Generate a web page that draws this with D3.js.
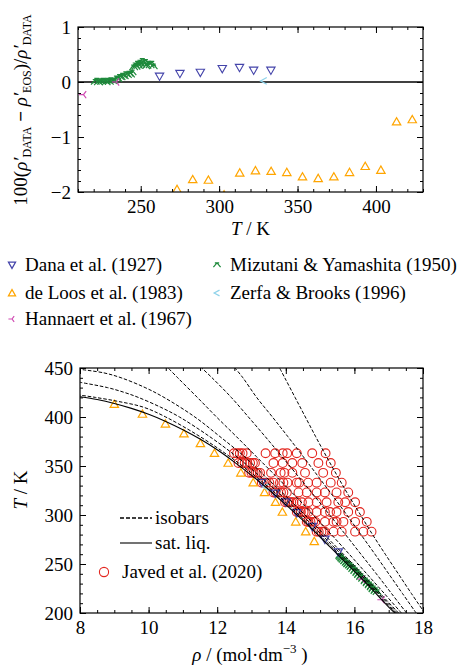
<!DOCTYPE html>
<html lang="en">
<head>
<meta charset="UTF-8">
<title>Saturated liquid density deviations</title>
<script src="https://cdn.jsdelivr.net/npm/d3@7"></script>
<style>
    body {margin:0; background:#fff}
    svg {display:block}
    svg text {font-family: "Liberation Serif", "Times New Roman", Times, "Nimbus Roman", "Nimbus Roman No9 L", "FreeSerif", "Noto Serif", "DejaVu Serif", serif;}
</style>
</head>
<body>
<svg id="chart" width="467" height="667"></svg>
<script>
// ---- data ----
// Dana et al. (1927)
var danaT   = [262, 275, 288, 302, 313, 322, 333];
var danaDev = [0.10, 0.15, 0.17, 0.24, 0.26, 0.21, 0.21];
var danaRho = [15.53, 15.14, 14.77, 14.32, 14.00, 13.69, 13.30];
// de Loos et al. (1983)
var loosT   = [273.15, 283.15, 293.15, 303.15, 313.15, 323.15, 333.15, 343.15, 353.15, 363.15, 373.15, 383.15, 393.15, 403.15, 413.15, 423.15];
var loosDev = [-1.95, -1.77, -1.78, -2.05, -1.65, -1.61, -1.62, -1.64, -1.72, -1.75, -1.72, -1.64, -1.53, -1.60, -0.72, -0.68];
var loosRho = [14.83, 14.58, 14.29, 13.90, 13.70, 13.38, 13.05, 12.69, 12.32, 11.92, 11.51, 11.03, 10.49, 9.82, 9.00, 7.70];
// Hannaert et al. (1967)
var hannT   = [213.5, 234.5];
var hannDev = [-0.23, 0.00];
var hannRho = [16.80, 16.22];
// Mizutani & Yamashita (1950)
var mizT   = [221, 222, 223, 224, 225, 226, 227, 228, 229, 230, 231, 232, 233,
              234.5, 235.5, 236.5, 237.5, 238.5, 239.5, 240.5, 241.5, 242.5, 243.5, 244.5, 245.5, 246.5,
              247, 248, 248.5, 249.5, 250, 251, 251.5, 252.5, 253, 254, 255, 256, 257, 258];
var mizDev = [0.00, 0.02, -0.01, 0.01, 0.00, 0.02, 0.01, -0.01, 0.02, 0.00, 0.03, 0.01, 0.02,
              0.06, 0.05, 0.09, 0.08, 0.11, 0.10, 0.14, 0.12, 0.15, 0.13, 0.17, 0.26, 0.30,
              0.27, 0.33, 0.29, 0.35, 0.31, 0.38, 0.34, 0.30, 0.36, 0.29, 0.33, 0.30, 0.33, 0.28];
var mizRho = [16.66, 16.60, 16.61, 16.54, 16.55, 16.49, 16.50, 16.43, 16.44, 16.37, 16.38, 16.31, 16.32,
              16.24, 16.25, 16.18, 16.19, 16.12, 16.13, 16.07, 16.08, 16.01, 16.02, 15.95, 15.97, 15.90,
              15.91, 15.85, 15.87, 15.80, 15.82, 15.76, 15.78, 15.71, 15.73, 15.67, 15.64, 15.62, 15.59, 15.57];
// Zerfa & Brooks (1996)
var zerfT   = [328.5];
var zerfDev = [0.02];
var zerfRho = [13.42];

// Javed et al. (2020): temperature rows and the densities measured on each
var javedRows = [363, 353, 343, 333, 323, 313, 303, 293, 283];
var javedRho = [
    [12.49, 12.58, 12.66, 12.74, 12.86, 13.41, 13.69, 13.91, 14.04, 14.32, 14.77, 15.16],
    [12.62, 12.72, 12.80, 12.88, 12.96, 13.04, 13.10, 13.64, 13.91, 14.19, 14.48, 14.95, 15.31],
    [12.93, 13.00, 13.06, 13.12, 13.18, 13.25, 13.57, 13.85, 13.96, 14.19, 14.56, 15.09, 15.46],
    [13.30, 13.36, 13.44, 13.52, 13.64, 13.83, 13.93, 14.05, 14.32, 14.39, 14.65, 14.90, 15.31, 15.63],
    [13.64, 13.70, 13.78, 13.86, 13.93, 14.03, 14.37, 14.61, 14.90, 15.14, 15.48, 15.82],
    [13.98, 14.04, 14.10, 14.16, 14.22, 14.32, 14.47, 14.66, 14.90, 15.19, 15.53, 15.73, 16.02],
    [14.32, 14.38, 14.44, 14.52, 14.58, 14.66, 14.90, 15.14, 15.29, 15.48, 15.82, 16.16],
    [14.61, 14.66, 14.72, 14.80, 14.86, 15.14, 15.39, 15.48, 15.68, 16.02, 16.36],
    [14.90, 14.96, 15.04, 15.10, 15.14, 15.39, 15.63, 16.02, 16.26, 16.50]
];

// saturated liquid line [rho, T]
var satLiq = [[8.0, 420.7], [8.5, 417.8], [9.0, 413.8], [9.5, 408.8], [10.0, 402.8], [10.5, 395.5],
              [11.0, 387.0], [11.5, 377.5], [12.0, 366.5], [12.5, 354.0], [13.0, 340.5], [13.5, 326.0],
              [14.0, 310.5], [14.5, 294.5], [15.0, 277.5], [15.5, 260.0], [16.0, 242.5], [16.5, 224.5],
              [17.0, 206.0], [17.18, 200.0]];
// isobars [T, rho]
var isobar1 = [[200, 17.21], [220, 16.66], [240, 16.11], [260, 15.55], [280, 14.97], [300, 14.39], [320, 13.77],
               [340, 13.10], [360, 12.35], [380, 11.50], [400, 10.50], [410, 9.85], [416, 9.10], [420, 8.45], [422.3, 8.0]];
var isobar2 = [[200, 17.25], [220, 16.70], [240, 16.16], [260, 15.61], [280, 15.04], [300, 14.47], [320, 13.87],
               [340, 13.23], [360, 12.55], [380, 11.78], [400, 10.90], [410, 10.35], [420, 9.70], [425, 9.30], [430, 8.80], [435.4, 8.0]];
var isobar3 = [[200, 17.29], [220, 16.75], [240, 16.22], [260, 15.68], [280, 15.12], [300, 14.56], [320, 13.98],
               [340, 13.38], [360, 12.78], [380, 12.08], [400, 11.35], [420, 10.45], [430, 9.90], [440, 9.20], [445, 8.70], [448.6, 8.0]];
var isobar4 = [[200, 17.37], [220, 16.87], [240, 16.36], [260, 15.85], [280, 15.33], [300, 14.80], [320, 14.26],
               [340, 13.70], [360, 13.13], [380, 12.56], [400, 11.98], [420, 11.42], [440, 10.85], [450, 10.57]];
var isobar5 = [[200, 17.52], [220, 17.08], [240, 16.64], [260, 16.19], [280, 15.74], [300, 15.28], [320, 14.82],
               [340, 14.35], [360, 13.88], [380, 13.40], [400, 12.91], [420, 12.41], [440, 11.85], [450, 11.55]];
var isobar6 = [[200, 17.80], [220, 17.40], [240, 17.00], [260, 16.60], [280, 16.19], [300, 15.78], [320, 15.36],
               [340, 14.93], [360, 14.50], [380, 14.06], [400, 13.61], [420, 13.15], [440, 12.75], [450, 12.52]];
var isobar7 = [[200, 18.05], [220, 17.66], [240, 17.28], [260, 16.90], [280, 16.53], [300, 16.18], [320, 15.83],
               [340, 15.50], [360, 15.18], [380, 14.87], [400, 14.57], [420, 14.27], [440, 13.97], [450, 13.82]];
var isobars = [isobar1, isobar2, isobar3, isobar4, isobar5, isobar6, isobar7];

// ---- colours ----
var cDana = "#4444aa", cLoos = "#ffa500", cMiz = "#1f8a3c", cZerf = "#8fd3ea", cHann = "#d04ab2", cJaved = "#e3261f";

// ---- marker shapes ----
function triDown(s){ return "M"+(-s)+","+(-s*0.8)+"L"+s+","+(-s*0.8)+"L0,"+(s*0.95)+"Z"; }
function triUp(s){ return "M"+(-s)+","+(s*0.8)+"L"+s+","+(s*0.8)+"L0,"+(-s*0.95)+"Z"; }
function mizMark(s){ return "M"+(-s*0.6)+","+(-s*0.6)+"L"+(s*0.6)+","+(-s*0.6)+"M0,"+(-s*0.6)+"L"+(-s)+","+(s*0.6)+"M0,"+(-s*0.6)+"L"+s+","+(s*0.6); }
function hannMark(s){ return "M0,0L"+(-s)+",0M0,0L"+(s*0.6)+","+(-s*0.8)+"M0,0L"+(s*0.6)+","+(s*0.8); }
function zerfMark(s){ return "M"+(s*0.7)+","+(-s*0.8)+"L"+(-s*0.8)+",0L"+(s*0.7)+","+(s*0.8); }

var svg = d3.select("#chart");

function frame(g, x, y, w, h, xMaj, xMin, yMaj, yMin){
    var fmt = d3.format("d");
    var axes = [
        g.append("g").attr("transform", "translate(0,"+h+")").call(d3.axisBottom(x).tickValues(xMin).tickSize(-3).tickFormat("")),
        g.append("g").call(d3.axisTop(x).tickValues(xMin).tickSize(-3).tickFormat("")),
        g.append("g").call(d3.axisLeft(y).tickValues(yMin).tickSize(-3).tickFormat("")),
        g.append("g").attr("transform", "translate("+w+",0)").call(d3.axisRight(y).tickValues(yMin).tickSize(-3).tickFormat("")),
        g.append("g").attr("transform", "translate(0,"+h+")").call(d3.axisBottom(x).tickValues(xMaj).tickSize(-6).tickPadding(8).tickFormat(fmt)),
        g.append("g").call(d3.axisTop(x).tickValues(xMaj).tickSize(-6).tickFormat("")),
        g.append("g").call(d3.axisLeft(y).tickValues(yMaj).tickSize(-6).tickPadding(7).tickFormat(fmt)),
        g.append("g").attr("transform", "translate("+w+",0)").call(d3.axisRight(y).tickValues(yMaj).tickSize(-6).tickFormat(""))
    ];
    axes.forEach(function(a){
        a.attr("font-size", 19);
        a.select(".domain").remove();
        a.selectAll(".tick line").attr("stroke", "#000").attr("stroke-width", 1);
        a.selectAll(".tick text").attr("fill", "#000");
    });
    g.append("rect").attr("width", w).attr("height", h)
        .attr("fill", "none").attr("stroke", "#000").attr("stroke-width", 1.2);
}

// ================= top panel: deviations =================
var tw = 345, th = 165;
var topG = svg.append("g").attr("transform", "translate(78,27)");
var xT = d3.scaleLinear().domain([210, 430]).range([0, tw]);
var yD = d3.scaleLinear().domain([-2, 1]).range([th, 0]);

svg.append("clipPath").attr("id", "clipTop").append("rect").attr("width", tw).attr("height", th);
var topData = topG.append("g").attr("clip-path", "url(#clipTop)");

topData.append("line").attr("x1", 0).attr("x2", tw).attr("y1", yD(0)).attr("y2", yD(0))
    .attr("stroke", "#000").attr("stroke-width", 1.3);

function devMarks(Ts, devs, shape, col, s, sw){
    topData.selectAll(null).data(d3.range(Ts.length)).enter().append("path")
        .attr("transform", function(i){ return "translate("+xT(Ts[i])+","+yD(devs[i])+")"; })
        .attr("d", shape(s)).attr("fill", "none").attr("stroke", col).attr("stroke-width", sw);
}
devMarks(mizT, mizDev, mizMark, cMiz, 4.2, 1.2);
devMarks(hannT, hannDev, hannMark, cHann, 4.5, 1.2);
devMarks(danaT, danaDev, triDown, cDana, 4.2, 1.1);
devMarks(loosT, loosDev, triUp, cLoos, 4.2, 1.2);
devMarks(zerfT, zerfDev, zerfMark, cZerf, 4.2, 1.2);

frame(topG, xT, yD, tw, th, [250, 300, 350, 400], d3.range(210, 431, 10), [-2, -1, 0, 1], d3.range(-2, 1.01, 0.2));

topG.append("text").attr("x", tw/2).attr("y", th+43).attr("text-anchor", "middle")
    .attr("font-size", 19)
    .html("<tspan font-style='italic'>T</tspan> / K");

var yl = svg.append("text").attr("transform", "translate(27,110) rotate(-90)")
    .attr("text-anchor", "middle").attr("font-size", 19);
yl.append("tspan").text("100(");
yl.append("tspan").attr("font-style", "italic").text("\u03c1\u2032");
yl.append("tspan").attr("font-size", 12).attr("dy", 4).text("DATA");
yl.append("tspan").attr("dy", -4).attr("font-weight", "bold").text(" \u2212 ");
yl.append("tspan").attr("font-style", "italic").text("\u03c1\u2032");
yl.append("tspan").attr("font-size", 12).attr("dy", 4).text("EOS");
yl.append("tspan").attr("dy", -4).text(")/");
yl.append("tspan").attr("font-style", "italic").text("\u03c1\u2032");
yl.append("tspan").attr("font-size", 12).attr("dy", 4).text("DATA");

// legend for top panel
var legItems = [
    {label: "Dana et al. (1927)", shape: triDown, col: cDana, x: 12, y: 265},
    {label: "de Loos et al. (1983)", shape: triUp, col: cLoos, x: 12, y: 293},
    {label: "Hannaert et al. (1967)", shape: hannMark, col: cHann, x: 12, y: 319},
    {label: "Mizutani & Yamashita (1950)", shape: mizMark, col: cMiz, x: 217, y: 265},
    {label: "Zerfa & Brooks (1996)", shape: zerfMark, col: cZerf, x: 217, y: 293}
];
var leg = svg.append("g");
leg.selectAll("path").data(legItems).enter().append("path")
    .attr("transform", function(d){ return "translate("+d.x+","+d.y+")"; })
    .attr("d", function(d){ return d.shape(3.6); })
    .attr("fill", "none").attr("stroke", function(d){ return d.col; }).attr("stroke-width", 1.2);
leg.selectAll("text").data(legItems).enter().append("text")
    .attr("x", function(d){ return d.x + 13; }).attr("y", function(d){ return d.y + 6; })
    .attr("font-size", 19)
    .text(function(d){ return d.label; });

// ================= bottom panel: T-rho diagram =================
var bw = 343, bh = 245;
var botG = svg.append("g").attr("transform", "translate(80,368)");
var xR = d3.scaleLinear().domain([8, 18]).range([0, bw]);
var yT = d3.scaleLinear().domain([200, 450]).range([bh, 0]);

svg.append("clipPath").attr("id", "clipBot").append("rect").attr("width", bw).attr("height", bh);
var botData = botG.append("g").attr("clip-path", "url(#clipBot)");

var lineRT = d3.line().x(function(d){ return xR(d[0]); }).y(function(d){ return yT(d[1]); }).curve(d3.curveCatmullRom);
var lineTR = d3.line().x(function(d){ return xR(d[1]); }).y(function(d){ return yT(d[0]); }).curve(d3.curveCatmullRom);

// Javed circles
var javedPts = [];
javedRows.forEach(function(T, r){
    javedRho[r].forEach(function(rho){ javedPts.push([rho, T]); });
});
botData.selectAll(".jv").data(javedPts).enter().append("circle").attr("class", "jv")
    .attr("cx", function(d){ return xR(d[0]); }).attr("cy", function(d){ return yT(d[1]); })
    .attr("r", 4.4).attr("fill", "none").attr("stroke", cJaved).attr("stroke-width", 1.1);

function rhoMarks(Ts, rhos, shape, col, s, sw){
    botData.selectAll(null).data(d3.range(Ts.length)).enter().append("path")
        .attr("transform", function(i){ return "translate("+xR(rhos[i])+","+yT(Ts[i])+")"; })
        .attr("d", shape(s)).attr("fill", "none").attr("stroke", col).attr("stroke-width", sw);
}
rhoMarks(mizT, mizRho, mizMark, cMiz, 4.2, 1.2);
rhoMarks(hannT, hannRho, hannMark, cHann, 4.5, 1.2);
rhoMarks(loosT, loosRho, triUp, cLoos, 4.2, 1.2);
rhoMarks(danaT, danaRho, triDown, cDana, 4.2, 1.2);
rhoMarks(zerfT, zerfRho, zerfMark, cZerf, 4.2, 1.2);

botData.append("path").datum(satLiq).attr("d", lineRT)
    .attr("fill", "none").attr("stroke", "#000").attr("stroke-width", 1.1);
botData.selectAll(".iso").data(isobars).enter().append("path").attr("class", "iso")
    .attr("d", lineTR).attr("fill", "none").attr("stroke", "#000")
    .attr("stroke-width", 1).attr("stroke-dasharray", "3.5,1.8");

frame(botG, xR, yT, bw, bh, [8, 10, 12, 14, 16, 18], d3.range(8, 18.01, 0.5), [200, 250, 300, 350, 400, 450], d3.range(200, 451, 10));

// bottom legend
var bl = svg.append("g").attr("font-size", 19);
bl.append("line").attr("x1", 120).attr("x2", 152).attr("y1", 518).attr("y2", 518)
    .attr("stroke", "#000").attr("stroke-width", 1.4).attr("stroke-dasharray", "4,2");
bl.append("text").attr("x", 155).attr("y", 524).text("isobars");
bl.append("line").attr("x1", 120).attr("x2", 152).attr("y1", 543).attr("y2", 543)
    .attr("stroke", "#000").attr("stroke-width", 1.1);
bl.append("text").attr("x", 155).attr("y", 549).text("sat. liq.");
bl.append("circle").attr("cx", 104).attr("cy", 572).attr("r", 4.6)
    .attr("fill", "none").attr("stroke", cJaved).attr("stroke-width", 1.1);
bl.append("text").attr("x", 122).attr("y", 578).text("Javed et al. (2020)");

// bottom axis titles
var xl = svg.append("text").attr("x", 250).attr("y", 661).attr("text-anchor", "middle")
    .attr("font-size", 19);
xl.append("tspan").attr("font-style", "italic").text("\u03c1");
xl.append("tspan").text(" / (mol\u00b7dm");
xl.append("tspan").attr("font-size", 13).attr("dy", -8).text("\u22123");
xl.append("tspan").attr("dy", 8).text(" )");

svg.append("text").attr("transform", "translate(27,490) rotate(-90)").attr("text-anchor", "middle")
    .attr("font-size", 19)
    .html("<tspan font-style='italic'>T</tspan> / K");
</script>
</body>
</html>
